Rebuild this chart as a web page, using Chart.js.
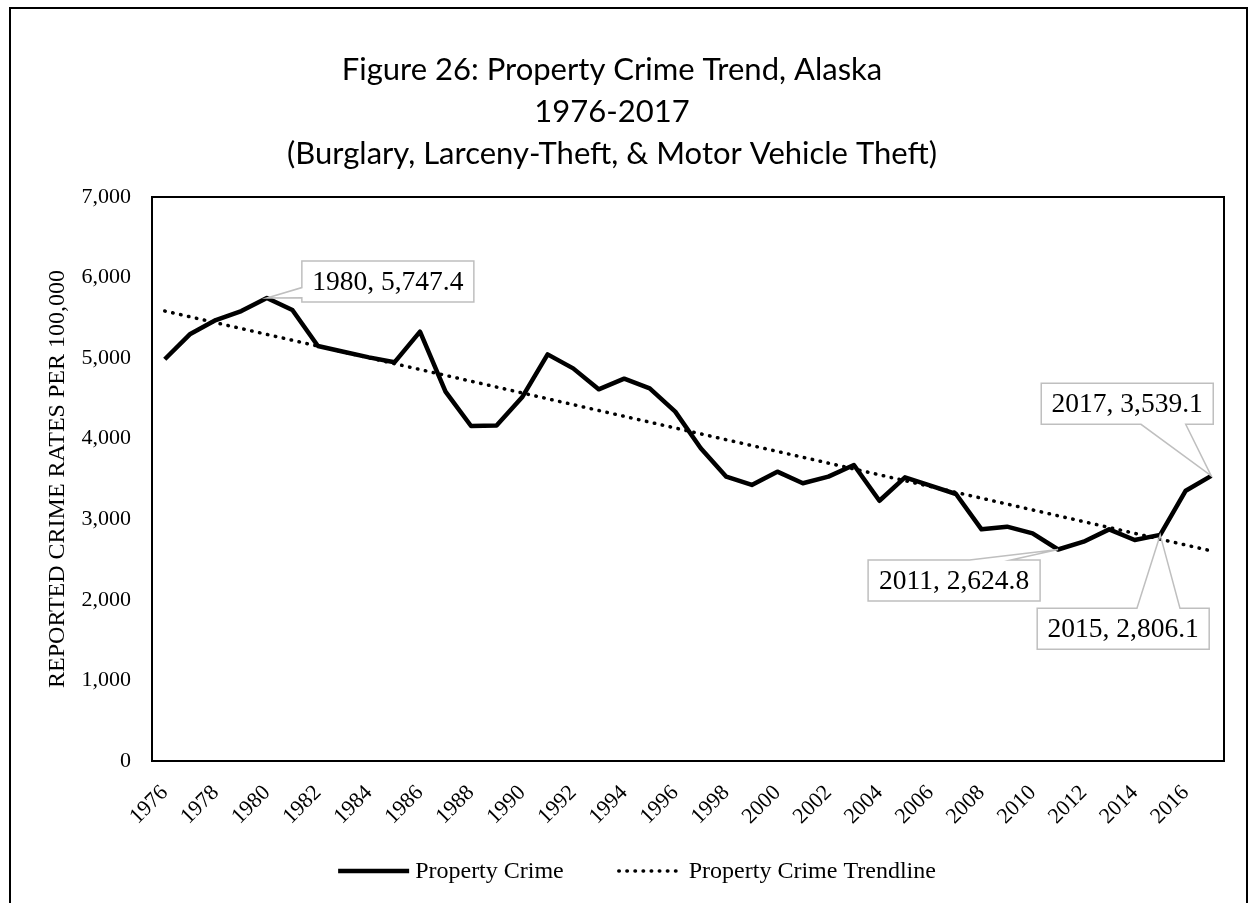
<!DOCTYPE html>
<html>
<head>
<meta charset="utf-8">
<script src="https://cdn.jsdelivr.net/npm/chart.js@4/dist/chart.umd.min.js"></script>
<style>
html,body{margin:0;padding:0;background:#fff;}
canvas{display:block;}
</style>
</head>
<body>
<canvas id="c" width="1252" height="903"></canvas>
<script>
// ---- data ----
const years = ['1976','1977','1978','1979','1980','1981','1982','1983','1984','1985','1986','1987','1988','1989','1990','1991','1992','1993','1994','1995','1996','1997','1998','1999','2000','2001','2002','2003','2004','2005','2006','2007','2008','2009','2010','2011','2012','2013','2014','2015','2016','2017'];
const propertyCrime = [4986,5300,5473,5585,5747.4,5598,5151,5080,5010,4948,5329,4584,4158,4165,4514,5047,4873,4613,4745,4625,4336,3881,3529,3426,3591,3447,3529,3674,3230,3521,3417,3314,2875,2908,2825,2624.8,2722,2875,2743,2806.1,3355,3539.1];
const trendYears = ['1976','2017'];
const trendValues = [5585, 2608];
const xTickLabels = ['1976','1978','1980','1982','1984','1986','1988','1990','1992','1994','1996','1998','2000','2002','2004','2006','2008','2010','2012','2014','2016'];
const yTickValues = [0,1000,2000,3000,4000,5000,6000,7000];
const calloutYears = ['1980','2011','2015','2017'];
const calloutTexts = ['1980, 5,747.4','2011, 2,624.8','2015, 2,806.1','2017, 3,539.1'];
const titleLines = ['Figure 26: Property Crime Trend, Alaska','1976-2017','(Burglary, Larceny-Theft, & Motor Vehicle Theft)'];
const yAxisTitle = 'REPORTED CRIME RATES PER 100,000';

// callout layout (box offset from its point, wedge side and anchors)
const calloutStyle = {
  '1980': {dx: 35, dy: -37, side: 'left', a1: 0.65, a2: 0.9},
  '2011': {dx: -190, dy: 10.5, side: 'top', a1: 0.59, a2: 0.83},
  '2015': {dx: -123, dy: 73.4, side: 'top', a1: 0.58, a2: 0.83},
  '2017': {dx: -170, dy: -92.5, side: 'bottom', a1: 0.58, a2: 0.84}
};

const trendData = years.map(y => {
  const k = trendYears.indexOf(y);
  return k >= 0 ? trendValues[k] : null;
});

const serif = "'Liberation Serif', 'Times New Roman', serif";
const titleFamily = "Lato, 'Open Sans', sans-serif";

// size the title font so its widest line is about 650px wide
const mctx = document.createElement('canvas').getContext('2d');
mctx.font = "100px " + titleFamily;
const titleSize = Math.round(100 * 650 / mctx.measureText(titleLines[2]).width * 10) / 10;
const titleLineH = 42;

const framePlugin = {
  id: 'frames',
  beforeDraw(chart) {
    const ctx = chart.ctx;
    ctx.save();
    ctx.fillStyle = '#fff';
    ctx.fillRect(0, 0, chart.width, chart.height);
    ctx.strokeStyle = '#000';
    ctx.lineWidth = 2;
    ctx.strokeRect(10, 8, 1237, 900);
    ctx.restore();
  },
  afterDatasetsDraw(chart) {
    const ctx = chart.ctx;
    const a = chart.chartArea;
    ctx.save();
    ctx.strokeStyle = '#000';
    ctx.lineWidth = 2;
    ctx.strokeRect(a.left, a.top, a.right - a.left, a.bottom - a.top);
    // callouts
    const xs = chart.scales.x, ys = chart.scales.y;
    ctx.font = "27.5px " + serif;
    ctx.textAlign = 'center';
    ctx.textBaseline = 'middle';
    calloutYears.forEach((yr, i) => {
      const idx = years.indexOf(yr);
      const px = xs.getPixelForValue(idx);
      const py = ys.getPixelForValue(propertyCrime[idx]);
      const st = calloutStyle[yr];
      const w = 172, h = 41;
      const L = px + st.dx, T = py + st.dy, R = L + w, B = T + h;
      ctx.fillStyle = '#fff';
      ctx.fillRect(L, T, w, h);
      ctx.beginPath();
      if (st.side === 'left') {
        ctx.moveTo(L, T); ctx.lineTo(R, T); ctx.lineTo(R, B); ctx.lineTo(L, B);
        ctx.lineTo(L, T + st.a2 * h); ctx.lineTo(px, py); ctx.lineTo(L, T + st.a1 * h);
        ctx.closePath();
      } else if (st.side === 'top') {
        ctx.moveTo(L, T); ctx.lineTo(L + st.a1 * w, T); ctx.lineTo(px, py); ctx.lineTo(L + st.a2 * w, T);
        ctx.lineTo(R, T); ctx.lineTo(R, B); ctx.lineTo(L, B); ctx.closePath();
      } else {
        ctx.moveTo(L, T); ctx.lineTo(R, T); ctx.lineTo(R, B); ctx.lineTo(L + st.a2 * w, B);
        ctx.lineTo(px, py); ctx.lineTo(L + st.a1 * w, B); ctx.lineTo(L, B); ctx.closePath();
      }
      ctx.strokeStyle = '#bfbfbf';
      ctx.lineWidth = 1.5;
      ctx.stroke();
      ctx.fillStyle = '#000';
      ctx.fillText(calloutTexts[i], L + w / 2, T + h / 2 + 1);
    });
    ctx.restore();
  },
  afterDraw(chart) {
    // legend drawn from the datasets' own styles
    const ctx = chart.ctx;
    const ds = chart.data.datasets;
    const sampleLen = [71, 66], textGap = 6, itemGap = 53, cy = 871, centerX = 637;
    ctx.save();
    ctx.font = "24px " + serif;
    ctx.textBaseline = 'middle';
    ctx.textAlign = 'left';
    const widths = ds.map((d, i) => sampleLen[i] + textGap + ctx.measureText(d.label).width);
    const total = widths.reduce((s, v) => s + v, 0) + itemGap * (ds.length - 1);
    let x = centerX - total / 2;
    ds.forEach((d, i) => {
      ctx.save();
      ctx.strokeStyle = d.borderColor;
      ctx.lineWidth = d.borderWidth;
      ctx.lineCap = d.borderCapStyle || 'butt';
      ctx.setLineDash(d.borderDash || []);
      ctx.beginPath();
      ctx.moveTo(x + (d.borderCapStyle === 'round' ? 2 : 0), cy);
      ctx.lineTo(x + sampleLen[i], cy);
      ctx.stroke();
      ctx.restore();
      ctx.fillStyle = '#000';
      ctx.fillText(d.label, x + sampleLen[i] + textGap, cy + 1);
      x += widths[i] + itemGap;
    });
    ctx.restore();
  }
};

new Chart(document.getElementById('c'), {
  type: 'line',
  data: {
    labels: years,
    datasets: [
      {
        label: 'Property Crime',
        data: propertyCrime,
        borderColor: '#000',
        backgroundColor: '#000',
        borderWidth: 4.5,
        borderJoinStyle: 'round',
        borderCapStyle: 'butt',
        pointRadius: 0,
        tension: 0
      },
      {
        label: 'Property Crime Trendline',
        data: trendData,
        spanGaps: true,
        borderColor: '#000',
        backgroundColor: '#000',
        borderWidth: 3.5,
        borderDash: [0.5, 7.6],
        borderCapStyle: 'round',
        pointRadius: 0,
        tension: 0
      }
    ]
  },
  options: {
    responsive: false,
    animation: false,
    devicePixelRatio: 1,
    layout: { padding: { left: 0, right: 28, top: 0, bottom: 72 } },
    plugins: {
      title: {
        display: true,
        text: titleLines,
        color: '#000',
        font: { family: titleFamily, size: titleSize, weight: 'normal', lineHeight: titleLineH / titleSize },
        padding: { top: 49, bottom: 22 }
      },
      legend: { display: false },
      tooltip: { enabled: false }
    },
    scales: {
      x: {
        offset: true,
        grid: { display: false, drawTicks: false },
        border: { display: false },
        ticks: {
          autoSkip: false,
          maxRotation: 45,
          minRotation: 45,
          padding: 19,
          color: '#000',
          font: { family: serif, size: 22 },
          callback: function(v) {
            const lab = this.getLabelForValue(v);
            return xTickLabels.includes(lab) ? lab : '';
          }
        },
        afterFit(s) { s.height = 70; }
      },
      y: {
        min: 0,
        max: 7000,
        afterBuildTicks(s) { s.ticks = yTickValues.map(v => ({ value: v })); },
        grid: { display: false, drawTicks: false },
        border: { display: false },
        ticks: {
          padding: 21,
          color: '#000',
          font: { family: serif, size: 22 },
          callback: v => v.toLocaleString('en-US')
        },
        title: {
          display: true,
          text: yAxisTitle,
          color: '#000',
          font: { family: serif, size: 24 },
          padding: { top: 43, bottom: 0 }
        },
        afterFit(s) { s.width = 152; }
      }
    }
  },
  plugins: [framePlugin]
});
</script>
</body>
</html>
